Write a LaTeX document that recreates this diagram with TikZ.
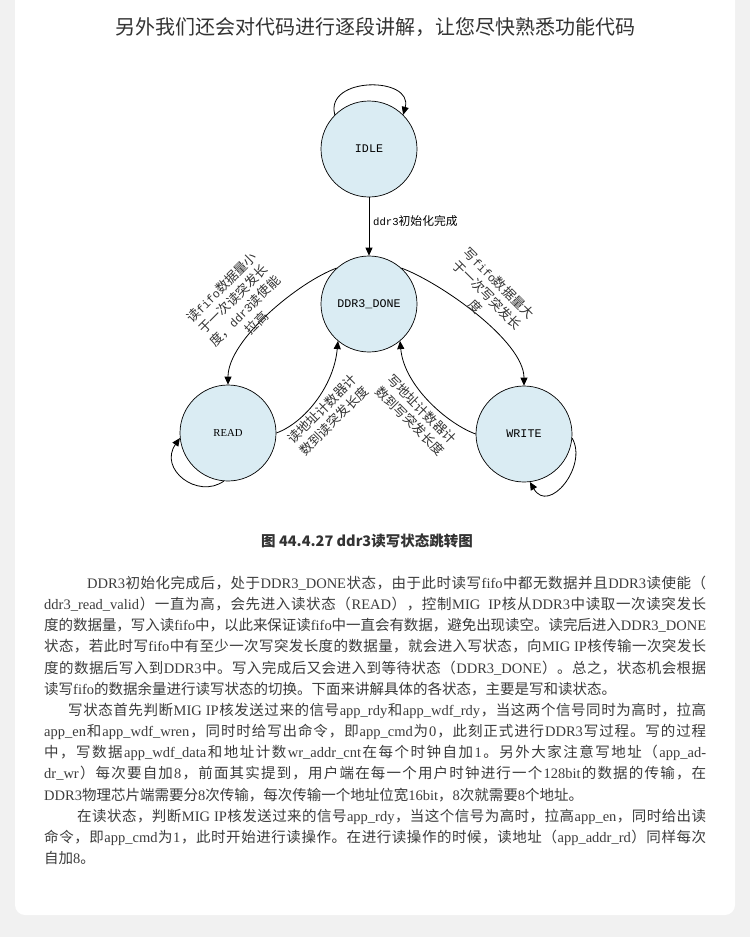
\documentclass[tikz,border=0pt]{standalone}
\usepackage{fontspec}
\setmainfont{Liberation Serif}
\newfontfamily\cjkfont{Noto Sans CJK SC}
\newfontfamily\monofont[Scale=0.9]{Liberation Mono}
\newfontfamily\cmono{Liberation Mono}
\usetikzlibrary{arrows.meta}
\definecolor{bggray}{HTML}{F1F1F1}
\definecolor{txt}{HTML}{3C3C3C}
\definecolor{ttl}{HTML}{333333}
\definecolor{stfill}{HTML}{DAECF3}
% automatic CJK font switching and inter-character glue
\def\curlatin{}
\def\cjkglue{\hskip0pt plus 3pt minus 1pt\relax}
\newXeTeXintercharclass\cjkcls
\makeatletter
\count@="3000 \loop\ifnum\count@<"3040 \XeTeXcharclass\count@=\cjkcls\relax\advance\count@\@ne\repeat
\count@="4E00 \loop\ifnum\count@<"A000 \XeTeXcharclass\count@=\cjkcls\relax\advance\count@\@ne\repeat
\count@="FF00 \loop\ifnum\count@<"FFF0 \XeTeXcharclass\count@=\cjkcls\relax\advance\count@\@ne\repeat
\makeatother
\XeTeXinterchartoks 0 \cjkcls = {\cjkglue\cjkfont}
\XeTeXinterchartoks 4095 \cjkcls = {\cjkfont}
\XeTeXinterchartoks \cjkcls 0 = {\cjkglue\curlatin}
\XeTeXinterchartoks \cjkcls 4095 = {\curlatin}
\XeTeXinterchartoks \cjkcls \cjkcls = {\cjkglue}
\XeTeXinterchartokenstate=1
\newcommand\pfont{\fontsize{14.5}{17}\selectfont\def\curlatin{\rmfamily}\rmfamily}
\newcommand\dlabfont{\fontsize{13}{16.5}\selectfont\def\curlatin{\monofont}\monofont}
\newcommand\elabfont{\fontsize{11.8}{14}\selectfont\def\curlatin{\monofont}\monofont}
\begin{document}
\begin{tikzpicture}[x=1pt,y=1pt,
  stnode/.style={circle, draw, line width=0.7pt, fill=stfill, minimum size=96pt, inner sep=0pt, font=\fontsize{11.7}{14}\selectfont\cmono},
  edge/.style={-{Triangle[length=8pt,width=7pt]}, line width=0.8pt},
  lbl/.style={inner sep=0pt, align=center, font=\dlabfont, text=black!80},
  pline/.style={anchor=base west, inner sep=0pt, text=txt, font=\pfont}]
\useasboundingbox (0,0) rectangle (750,-937);
\fill[bggray] (0,0) rectangle (750,-937);
\fill[white, rounded corners=10pt] (15,12) rectangle (735,-915);

\node[font=\fontsize{20}{24}\selectfont\cjkfont, text=ttl] (title) at (375,-27) {另外我们还会对代码进行逐段讲解，让您尽快熟悉功能代码};

% states
\node[stnode] (idle) at (369,-149) {IDLE};
\node[stnode] (done) at (369,-304) {DDR3\_DONE};
\node[stnode, font=\fontsize{10.7}{13}\selectfont\rmfamily] (read) at (228,-433) {READ};
\node[stnode] (write) at (524,-434) {WRITE};

% transitions
\draw[edge] (idle.135) .. controls +(105:40) and +(75:40) .. (idle.45);
\draw[edge] (idle) -- (done);
\node[anchor=west, inner sep=0pt, font=\elabfont] (lidle) at (373,-221) {ddr3初始化完成};

\draw[edge] (done.132) .. controls +(200:40) and +(90:45) .. (read.90);
\draw[edge] (read.0) .. controls +(20:30) and +(265:45) .. (done.230);
\draw[edge] (done.48) .. controls +(-20:40) and +(90:45) .. (write.90);
\draw[edge] (write.180) .. controls +(160:30) and +(275:45) .. (done.310);

\draw[edge] (read.265) .. controls +(215:32) and +(235:38) .. (read.186);
\draw[edge] (write.355) .. controls +(-60:32) and +(-60:38) .. (write.277);

\node[lbl, rotate=45] (la) at (239,-305) {读fifo数据量小\\于一次读突发长\\度，ddr3读使能\\拉高};
\node[lbl, rotate=-45] (lb) at (487.5,-295) {写fifo数据量大\\于一次写突发长\\度};
\node[lbl, rotate=45] (lc) at (328,-415) {读地址计数器计\\数到读突发长度};
\node[lbl, rotate=-45] (ld) at (416,-415) {写地址计数器计\\数到写突发长度};

% caption
\node[font=\fontsize{14.5}{17}\selectfont\cjkfont\bfseries, text=ttl] (cap) at (367,-541) {图 44.4.27 ddr3读写状态跳转图};

% paragraph lines
\node[pline] (p1) at (87,-588.5) {\hbox to 619pt{DDR3初始化完成后，处于DDR3\_DONE状态，由于此时读写fifo中都无数据并且DDR3读使能（}};
\node[pline] (p2) at (44,-609.65) {\hbox to 662pt{ddr3\_read\_valid）一直为高，会先进入读状态（READ），控制MIG\ \ IP核从DDR3中读取一次读突发长}};
\node[pline] (p3) at (44,-630.8) {\hbox to 662pt{度的数据量，写入读fifo中，以此来保证读fifo中一直会有数据，避免出现读空。读完后进入DDR3\_DONE}};
\node[pline] (p4) at (44,-651.95) {\hbox to 662pt{状态，若此时写fifo中有至少一次写突发长度的数据量，就会进入写状态，向MIG IP核传输一次突发长}};
\node[pline] (p5) at (44,-673.1) {\hbox to 662pt{度的数据后写入到DDR3中。写入完成后又会进入到等待状态（DDR3\_DONE）。总之，状态机会根据}};
\node[pline] (p6) at (44,-694.25) {读写fifo的数据余量进行读写状态的切换。下面来讲解具体的各状态，主要是写和读状态。};
\node[pline] (p7) at (68,-715.4) {\hbox to 638pt{写状态首先判断MIG IP核发送过来的信号app\_rdy和app\_wdf\_rdy，当这两个信号同时为高时，拉高}};
\node[pline] (p8) at (44,-736.55) {\hbox to 662pt{app\_en和app\_wdf\_wren，同时时给写出命令，即app\_cmd为0，此刻正式进行DDR3写过程。写的过程}};
\node[pline] (p9) at (44,-757.7) {\hbox to 662pt{中，写数据app\_wdf\_data和地址计数wr\_addr\_cnt在每个时钟自加1。另外大家注意写地址（app\_ad-}};
\node[pline] (p10) at (44,-778.85) {\hbox to 662pt{dr\_wr）每次要自加8，前面其实提到，用户端在每一个用户时钟进行一个128bit的数据的传输，在}};
\node[pline] (p11) at (44,-800) {DDR3物理芯片端需要分8次传输，每次传输一个地址位宽16bit，8次就需要8个地址。};
\node[pline] (p12) at (77,-821.15) {\hbox to 629pt{在读状态，判断MIG IP核发送过来的信号app\_rdy，当这个信号为高时，拉高app\_en，同时给出读}};
\node[pline] (p13) at (44,-842.3) {\hbox to 662pt{命令，即app\_cmd为1，此时开始进行读操作。在进行读操作的时候，读地址（app\_addr\_rd）同样每次}};
\node[pline] (p14) at (44,-863.45) {自加8。};
\end{tikzpicture}
\end{document}
